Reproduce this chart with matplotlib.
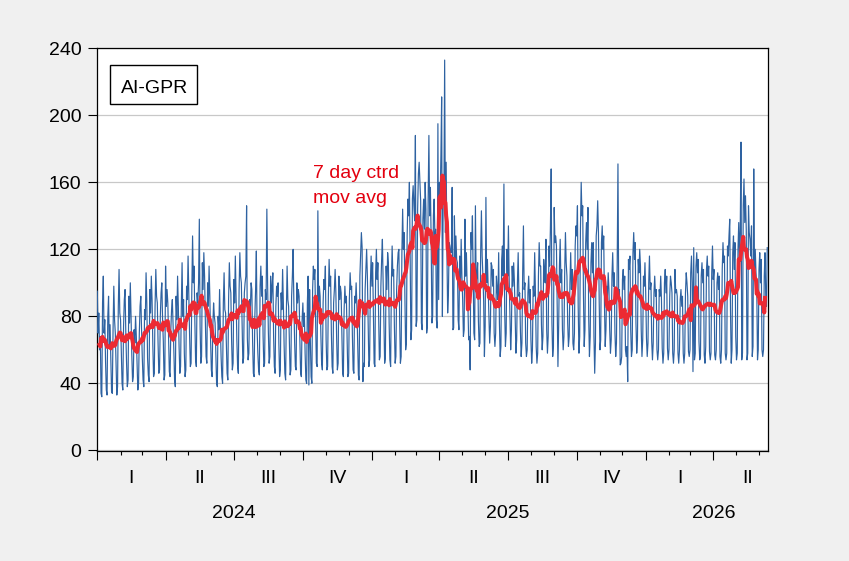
import numpy as np
import pandas as pd
import matplotlib
matplotlib.use("Agg")
import matplotlib.pyplot as plt
import matplotlib.dates as mdates
import matplotlib.transforms as mtransforms
from matplotlib.patches import Rectangle

plt.rcParams['font.family'] = ['Liberation Sans', 'DejaVu Sans']

# ---------------- data ----------------
start_date = "2024-01-01"
series_name = "AI-GPR"
ma_label = ["7 day ctrd", "mov avg"]
quarter_names = ["I", "II", "III", "IV"]
y_ticks = [0, 40, 80, 120, 160, 200, 240]

# daily AI-GPR values (one row per week, Mon..Sun)
ai_gpr = [
    95, 70, 82, 60, 68, 34, 32,
    88, 104, 70, 78, 53, 36, 33,
    80, 92, 62, 75, 56, 35, 34,
    72, 98, 78, 70, 52, 33, 38,
    86, 108, 82, 78, 60, 40, 36,
    74, 90, 96, 70, 52, 38, 42,
    92, 76, 100, 80, 57, 41, 44,
    72, 64, 80, 68, 53, 36, 40,
    70, 86, 92, 72, 55, 42, 38,
    84, 78, 106, 88, 55, 45, 41,
    96, 82, 104, 90, 63, 44, 46,
    86, 108, 92, 88, 64, 46, 48,
    80, 94, 100, 78, 65, 42, 45,
    110, 86, 96, 88, 68, 47, 44,
    72, 84, 90, 76, 60, 42, 38,
    92, 78, 104, 86, 62, 46, 50,
    86, 112, 80, 90, 58, 44, 48,
    98, 90, 116, 92, 69, 50, 52,
    96, 128, 100, 110, 78, 54, 50,
    94, 88, 100, 138, 74, 52, 56,
    112, 96, 118, 104, 78, 56, 52,
    100, 86, 110, 92, 66, 48, 44,
    74, 88, 80, 76, 59, 40, 38,
    80, 72, 96, 74, 56, 44, 40,
    88, 106, 84, 82, 63, 46, 42,
    90, 112, 98, 94, 66, 48, 52,
    102, 88, 116, 92, 66, 50, 46,
    96, 118, 104, 100, 77, 52, 55,
    94, 100, 104, 146, 67, 54, 58,
    90, 84, 100, 96, 65, 46, 44,
    80, 96, 119, 72, 58, 48, 45,
    98, 110, 92, 104, 68, 50, 52,
    96, 90, 144, 100, 71, 52, 56,
    104, 88, 98, 106, 68, 50, 46,
    86, 98, 92, 100, 64, 44, 48,
    94, 84, 108, 88, 63, 46, 42,
    82, 110, 90, 86, 64, 45, 48,
    92, 104, 120, 88, 65, 50, 48,
    100, 88, 96, 92, 66, 46, 44,
    78, 88, 74, 82, 58, 42, 40,
    88, 104, 39, 96, 65, 44, 40,
    96, 110, 102, 108, 77, 52, 50,
    143, 86, 98, 92, 69, 52, 48,
    88, 102, 96, 110, 66, 48, 50,
    92, 114, 98, 104, 70, 50, 46,
    88, 96, 108, 94, 67, 48, 52,
    104, 90, 98, 94, 70, 46, 44,
    84, 98, 88, 92, 66, 44, 46,
    90, 106, 96, 98, 69, 48, 46,
    92, 88, 100, 86, 65, 45, 42,
    104, 118, 130, 121, 41, 52, 50,
    96, 108, 120, 104, 77, 50, 54,
    100, 116, 98, 112, 81, 52, 50,
    106, 120, 102, 112, 80, 54, 56,
    98, 114, 126, 100, 78, 52, 55,
    110, 96, 118, 112, 76, 54, 50,
    100, 122, 104, 108, 74, 52, 56,
    96, 110, 118, 120, 78, 52, 56,
    118, 144, 120, 130, 92, 60, 64,
    128, 150, 140, 160, 117, 66, 72,
    150, 158, 146, 137, 188, 74, 78,
    144, 165, 172, 160, 149, 76, 72,
    138, 150, 132, 160, 144, 70, 74,
    150, 188, 140, 157, 126, 76, 80,
    140, 150, 128, 132, 78, 73, 195,
    90, 160, 150, 176, 211, 80, 148,
    150, 233, 130, 172, 120, 82, 93,
    124, 122, 118, 118, 157, 72, 73,
    140, 112, 128, 114, 112, 78, 72,
    116, 96, 126, 104, 90, 68, 72,
    138, 104, 118, 98, 87, 66, 68,
    48, 130, 120, 140, 105, 70, 66,
    146, 100, 104, 112, 77, 62, 64,
    118, 143, 116, 104, 89, 56, 74,
    151, 100, 114, 96, 80, 64, 74,
    112, 110, 98, 108, 70, 62, 70,
    104, 96, 90, 118, 76, 56, 62,
    114, 122, 104, 159, 83, 62, 70,
    120, 104, 134, 102, 80, 60, 72,
    110, 98, 112, 100, 79, 58, 66,
    100, 118, 92, 94, 71, 56, 64,
    106, 134, 96, 100, 64, 56, 60,
    94, 104, 88, 96, 66, 52, 60,
    98, 92, 118, 94, 62, 52, 58,
    104, 124, 110, 110, 75, 60, 68,
    114, 106, 100, 126, 72, 58, 68,
    122, 110, 134, 168, 76, 56, 62,
    145, 124, 128, 122, 84, 50, 75,
    110, 126, 100, 108, 72, 60, 68,
    106, 130, 112, 104, 76, 62, 68,
    100, 118, 96, 108, 64, 60, 70,
    122, 134, 128, 146, 86, 58, 68,
    132, 160, 140, 146, 93, 62, 72,
    124, 136, 120, 145, 79, 56, 68,
    112, 124, 106, 124, 68, 46, 64,
    128, 134, 149, 130, 89, 60, 66,
    124, 134, 120, 128, 88, 62, 72,
    98, 92, 106, 96, 72, 58, 66,
    104, 118, 98, 106, 70, 56, 64,
    112, 171, 92, 96, 51, 52, 56,
    102, 108, 96, 104, 60, 56, 62,
    41, 114, 108, 116, 72, 56, 60,
    118, 130, 114, 124, 76, 58, 66,
    114, 106, 120, 110, 72, 56, 66,
    104, 98, 112, 94, 67, 56, 64,
    100, 116, 96, 100, 65, 54, 64,
    94, 104, 92, 96, 60, 54, 60,
    96, 92, 104, 90, 61, 52, 58,
    100, 108, 94, 104, 61, 54, 60,
    92, 104, 100, 94, 58, 52, 60,
    108, 94, 96, 92, 58, 52, 60,
    90, 96, 86, 92, 58, 52, 58,
    94, 106, 100, 92, 59, 56, 60,
    106, 116, 100, 47, 121, 54, 58,
    110, 118, 106, 114, 65, 54, 56,
    104, 112, 100, 108, 57, 52, 62,
    108, 116, 104, 110, 59, 54, 58,
    106, 122, 102, 108, 57, 54, 60,
    100, 106, 96, 104, 56, 52, 60,
    108, 124, 112, 116, 58, 54, 58,
    122, 116, 128, 138, 84, 52, 60,
    118, 128, 108, 124, 68, 54, 58,
    120, 136, 114, 132, 184, 54, 58,
    146, 162, 136, 152, 132, 54, 58,
    146, 130, 126, 116, 134, 56, 62,
    168, 108, 120, 106, 98, 54, 60,
    108, 118, 100, 114, 60, 56, 60,
    104, 118, 92, 86, 121,
]

# ---------------- series ----------------
dates = pd.date_range(start_date, periods=len(ai_gpr), freq="D")
s = pd.Series(ai_gpr, index=dates, dtype=float)
ma = s.rolling(7, center=True).mean()

W, H = 849, 561
FS = 14
fig = plt.figure(figsize=(W / 100, H / 100), dpi=100, facecolor="#f0f0f0")
ax_l, ax_r, ax_t, ax_b = 97.3, 768.0, 47.5, 451.0
ax = fig.add_axes([ax_l / W, (H - ax_b) / H, (ax_r - ax_l) / W, (ax_b - ax_t) / H])
ax.set_facecolor("white")

ax.plot(dates, s.values, color="#2e62a1", lw=0.85, zorder=3)
ax.plot(dates, ma.values, color="#ec2a33", lw=2.9, zorder=4)

ax.set_ylim(-0.4, 240.5)
ax.set_xlim(dates[0], dates[-1] + pd.Timedelta(days=1))
ax.set_yticks(y_ticks)
ax.yaxis.grid(True, color="#c8c8c8", lw=0.9)
ax.set_axisbelow(True)

for sp in ax.spines.values():
    sp.set_color("black")
    sp.set_linewidth(0.9)

ax.tick_params(axis="y", direction="out", length=6.8, width=0.8, pad=4.5,
               labelsize=FS, colors="black")
ax.xaxis.set_major_locator(mdates.MonthLocator(bymonth=[1, 4, 7, 10]))
ax.xaxis.set_minor_locator(mdates.MonthLocator())
ax.tick_params(axis="x", which="major", direction="out", length=6.5, width=0.8,
               labelbottom=False)
ax.tick_params(axis="x", which="minor", direction="out", length=2.6, width=0.8)

# quarter and year labels
trans = mtransforms.blended_transform_factory(ax.transData, ax.transAxes)
q_y = (ax_b - 482.7) / (ax_b - ax_t)
yr_y = (ax_b - 517.7) / (ax_b - ax_t)
q_starts = pd.date_range("2024-01-01", dates[-1], freq="QS")
year_pos = {}
for qs in q_starts:
    qe = qs + pd.offsets.QuarterBegin(startingMonth=1)
    mid = mdates.date2num(qs) + (mdates.date2num(qe) - mdates.date2num(qs)) / 2
    ax.text(mid, q_y, quarter_names[(qs.month - 1) // 3], transform=trans,
            ha="center", va="baseline", fontsize=FS, color="black", clip_on=False)
    year_pos.setdefault(qs.year, []).append(mid)
for yr, mids in year_pos.items():
    ax.text(np.mean(mids), yr_y, str(yr), transform=trans, ha="center",
            va="baseline", fontsize=FS, color="black", clip_on=False)

# legend box
def ax_x(px):
    return (px - ax_l) / (ax_r - ax_l)

def ax_y(py):
    return (ax_b - py) / (ax_b - ax_t)

ax.add_patch(Rectangle((ax_x(110.3), ax_y(104.3)), ax_x(196.7) - ax_x(110.3),
                       ax_y(65.0) - ax_y(104.3), transform=ax.transAxes,
                       facecolor="white", edgecolor="black", lw=1.0, zorder=6))
ax.text(ax_x(120.5), ax_y(92.7), series_name, transform=ax.transAxes,
        ha="left", va="baseline", fontsize=FS, color="black", zorder=7)

# moving average annotation
ax.text(ax_x(313), ax_y(177.5), ma_label[0], transform=ax.transAxes,
        ha="left", va="baseline", fontsize=FS, color="#e3000f", zorder=7)
ax.text(ax_x(313), ax_y(203.3), ma_label[1], transform=ax.transAxes,
        ha="left", va="baseline", fontsize=FS, color="#e3000f", zorder=7)

fig.savefig("out.png", dpi=100, facecolor=fig.get_facecolor())
